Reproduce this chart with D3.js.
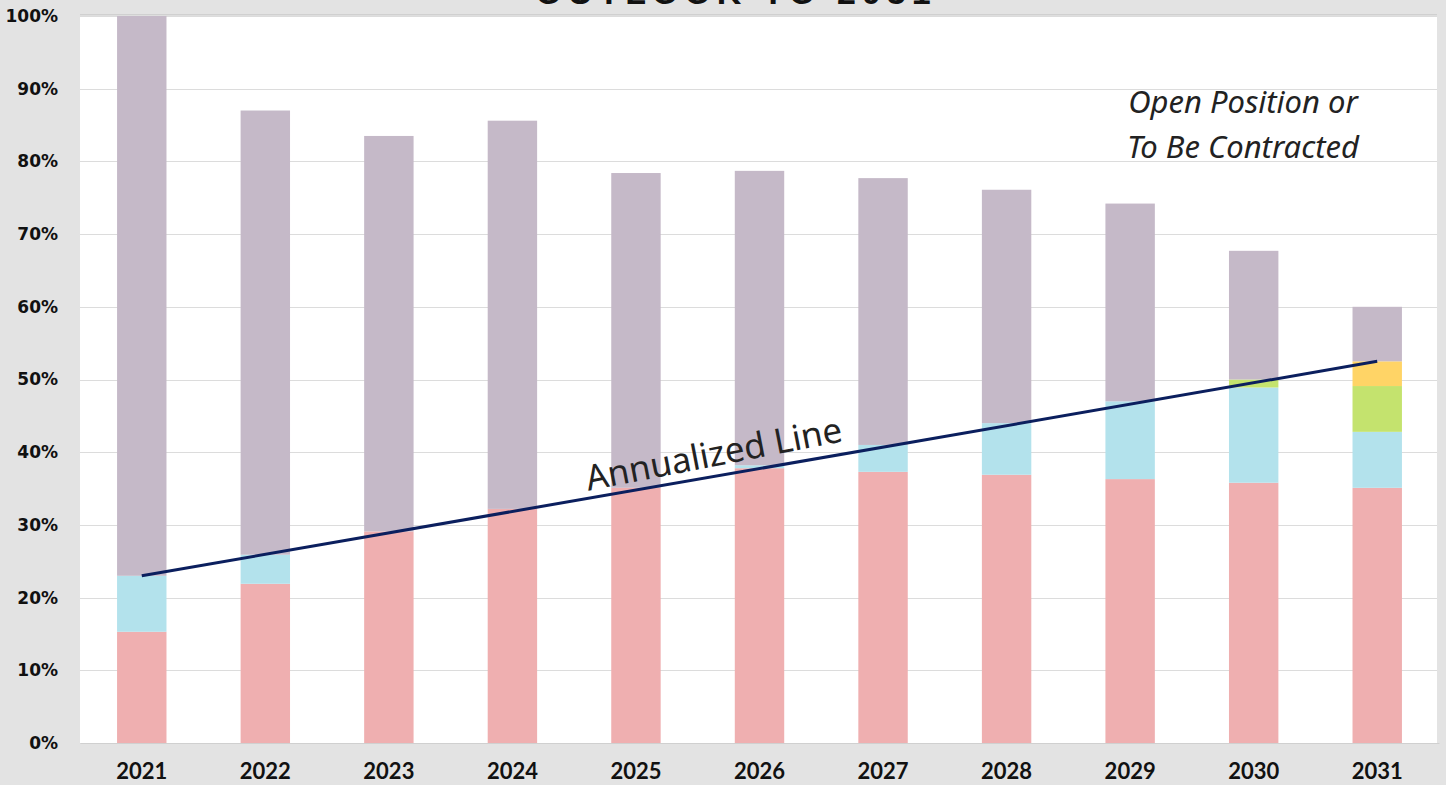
<!DOCTYPE html>
<html>
<head>
<meta charset="utf-8">
<script src="https://cdn.jsdelivr.net/npm/d3@7/dist/d3.min.js"></script>
<style>
  html, body { margin: 0; padding: 0; background: #E3E3E3; }
  svg { display: block; }
</style>
</head>
<body>
<svg id="chart" width="1446" height="785"></svg>
<script>
const years = ["2021","2022","2023","2024","2025","2026","2027","2028","2029","2030","2031"];
const contracted = [15.3, 21.9, 29.1, 32.2, 35.1, 37.8, 37.3, 36.9, 36.3, 35.8, 35.1];
const blueSeg    = [7.7, 4.0, 0, 0, 0, 0.4, 3.7, 7.1, 10.7, 13.1, 7.7];
const greenSeg   = [0, 0, 0, 0, 0, 0, 0, 0, 0, 1.1, 6.3];
const yellowSeg  = [0, 0, 0, 0, 0, 0, 0, 0, 0, 0, 3.4];
const openPos    = [77.0, 61.1, 54.4, 53.4, 43.3, 40.5, 36.7, 32.1, 27.2, 17.7, 7.5];
const yTicks = [0, 10, 20, 30, 40, 50, 60, 70, 80, 90, 100];
const lineYears = ["2021", "2031"];
const lineValues = [23.0, 52.5];

const keys = ["contracted", "blue", "green", "yellow", "open"];
const colors = {contracted: "#EFAFB0", blue: "#B3E2EC", green: "#C4E36E", yellow: "#FFD466", open: "#C5B9C8"};
const table = years.map((y, i) => ({
  year: y, contracted: contracted[i], blue: blueSeg[i], green: greenSeg[i], yellow: yellowSeg[i], open: openPos[i]
}));

const svg = d3.select("#chart");
const L = 80, R = 1439, T = 16, B = 743;

const x = d3.scaleBand().domain(years).range([L, R]).paddingInner(0.6).paddingOuter(0.3);
const y = d3.scaleLinear().domain([0, 100]).range([B, T]);

// plot background
svg.append("rect").attr("x", L).attr("y", T - 1).attr("width", 1437 - L).attr("height", B - T + 1)
  .attr("fill", "#fff");
svg.append("line").attr("x1", L).attr("x2", 1437).attr("y1", T - 1).attr("y2", T - 1)
  .attr("stroke", "#BDBDBD").attr("stroke-width", 1);

// gridlines
svg.append("g").selectAll("line").data(yTicks).join("line")
  .attr("x1", L).attr("x2", 1437)
  .attr("y1", d => Math.round(y(d)) + 0.5).attr("y2", d => Math.round(y(d)) + 0.5)
  .attr("stroke", "#DCDCDC").attr("stroke-width", 1.2);

// stacked bars
const stack = d3.stack().keys(keys)(table);
svg.append("g").selectAll("g").data(stack).join("g")
  .attr("fill", d => colors[d.key])
  .selectAll("rect").data(d => d).join("rect")
  .attr("x", d => x(d.data.year))
  .attr("width", x.bandwidth())
  .attr("y", d => y(d[1]))
  .attr("height", d => Math.max(0, y(d[0]) - y(d[1])));

// y axis labels
const yAxis = d3.axisLeft(y).tickValues(yTicks).tickFormat(d => d + "%").tickSize(0).tickPadding(22);
const ya = svg.append("g").attr("transform", `translate(${L},0)`).call(yAxis);
ya.select(".domain").remove();
ya.selectAll("text").attr("font-family", "'DejaVu Sans', sans-serif").attr("font-weight", "bold")
  .attr("font-size", 17).attr("fill", "#111");

// x axis labels
const xAxis = d3.axisBottom(x).tickSize(0).tickPadding(20);
const xa = svg.append("g").attr("transform", `translate(0,${B})`).call(xAxis);
xa.select(".domain").attr("stroke", "#D0D0D0");
xa.selectAll("text").attr("font-family", "'Liberation Sans Narrow', 'Lato', sans-serif").attr("font-weight", "bold")
  .attr("font-size", 22).attr("fill", "#111");

// annualized line
const lineGen = d3.line().x(d => x(d[0]) + x.bandwidth() / 2).y(d => y(d[1]));
svg.append("path").datum(lineYears.map((yy, i) => [yy, lineValues[i]]))
  .attr("d", lineGen).attr("fill", "none").attr("stroke", "#0B1F5E").attr("stroke-width", 3);

// annotation texts
svg.append("text").attr("transform", "translate(716,466) rotate(-11)")
  .attr("text-anchor", "middle").attr("font-family", "'Noto Sans', sans-serif")
  .attr("font-size", 35).attr("fill", "#222").text("Annualized Line");

const ann = svg.append("text").attr("text-anchor", "middle").attr("font-family", "'Noto Sans', sans-serif")
  .attr("font-style", "italic").attr("font-size", 31).attr("fill", "#222");
ann.append("tspan").attr("x", 1243).attr("y", 113).text("Open Position or");
ann.append("tspan").attr("x", 1243).attr("y", 158).text("To Be Contracted");

// title (cut off at top, as in the reference)
svg.append("text").attr("x", 736).attr("y", 4).attr("text-anchor", "middle")
  .attr("font-family", "'Liberation Sans', Arial, sans-serif").attr("font-weight", "bold")
  .attr("font-size", 34).attr("letter-spacing", 6).attr("fill", "#111").text("OUTLOOK TO 2031");
</script>
</body>
</html>
